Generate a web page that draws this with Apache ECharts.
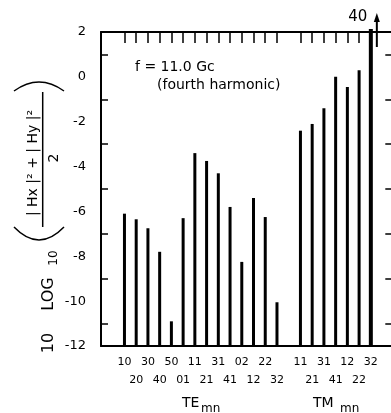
<!DOCTYPE html>
<html>
<head>
<meta charset="utf-8">
<script src="https://cdn.jsdelivr.net/npm/echarts@6/dist/echarts.min.js"></script>
<style>
  html, body { margin: 0; padding: 0; background: #fff; }
  #chart { width: 391px; height: 413px; }
</style>
</head>
<body>
<div id="chart"></div>
<script>
// mode labels, in drawing order
const teModes = ['10', '20', '30', '40', '50', '01', '11', '21', '31', '41', '02', '12', '22', '32'];
const tmModes = ['11', '21', '31', '41', '12', '22', '32'];

// 10 log10 of the mean squared field, per mode
const teValues = [-6.1, -6.35, -6.75, -7.8, -10.9, -6.3, -3.4, -3.75, -4.3, -5.8, -8.25, -5.4, -6.25, -10.05];
const tmValues = [-2.4, -2.1, -1.4, 0.0, -0.45, 0.3, 40];

const yTicks = [-12, -10, -8, -6, -4, -2, 0, 2];
const yMin = -12;
const yMax = 2;

// category slots: two empty before TE, one between TE and TM, two after
const slots = ['', ''].concat(teModes, [''], tmModes, ['', '']);
const teStart = 2;
const tmStart = teStart + teModes.length + 1;

const barData = [];
const rowOf = {};
teModes.forEach((m, i) => { barData.push([teStart + i, teValues[i]]); rowOf[teStart + i] = i % 2; });
tmModes.forEach((m, i) => { barData.push([tmStart + i, tmValues[i]]); rowOf[tmStart + i] = i % 2; });

const font = 'DejaVu Sans';
const chart = echarts.init(document.getElementById('chart'));

const txt = (text, x, y, size, align) => ({
  type: 'text', x: x, y: y,
  style: {
    text: text, fill: '#000', font: size + 'px "' + font + '"',
    align: align || 'center', verticalAlign: 'middle',
    textAlign: align || 'center', textVerticalAlign: 'middle'
  }
});

const option = {
  animation: false,
  grid: { left: 101, top: 32, width: 293.3, bottom: 67, outerBoundsMode: 'none' },
  xAxis: [
    {
      type: 'category',
      data: slots,
      boundaryGap: false,
      position: 'bottom',
      axisLine: { onZero: false, lineStyle: { color: '#000', width: 2 } },
      axisTick: { show: false },
      axisLabel: {
        interval: 0,
        margin: 7,
        color: '#000',
        fontFamily: font,
        fontSize: 11,
        lineHeight: 18,
        formatter: (v, i) => (v === '' ? '' : (rowOf[i] ? '\n' + v : v))
      },
      splitLine: { show: false }
    },
    {
      type: 'category',
      data: slots,
      boundaryGap: false,
      position: 'top',
      axisLine: { onZero: false, lineStyle: { color: '#000', width: 2 } },
      axisTick: {
        inside: true, length: 11,
        interval: (i) => slots[i] !== '',
        lineStyle: { color: '#000', width: 1.5 }
      },
      axisLabel: { show: false },
      splitLine: { show: false }
    }
  ],
  yAxis: [
    {
      type: 'value',
      min: yMin, max: yMax, interval: 2,
      position: 'left',
      axisLine: { show: true, onZero: false, lineStyle: { color: '#000', width: 2 } },
      axisTick: { inside: true, length: 14, lineStyle: { color: '#000', width: 1.5 } },
      minorTick: { show: true, splitNumber: 2, length: 7, lineStyle: { color: '#000', width: 1.5 } },
      axisLabel: {
        margin: 15, color: '#000', fontFamily: font, fontSize: 13,
        formatter: (v) => (yTicks.indexOf(v) >= 0 ? String(v) : '')
      },
      splitLine: { show: false }
    },
    {
      type: 'value',
      min: yMin, max: yMax, interval: 2,
      position: 'right',
      axisLine: { show: true, onZero: false, lineStyle: { color: '#000', width: 2 } },
      axisTick: { inside: true, length: 16, lineStyle: { color: '#000', width: 1.5 } },
      minorTick: { show: true, splitNumber: 2, length: 9, lineStyle: { color: '#000', width: 1.5 } },
      axisLabel: { show: false },
      splitLine: { show: false }
    }
  ],
  series: [
    {
      type: 'custom',
      xAxisIndex: 0,
      yAxisIndex: 0,
      data: barData,
      renderItem: (params, api) => {
        const idx = api.value(0);
        const val = api.value(1);
        const base = api.coord([idx, yMin]);
        const top = api.coord([idx, Math.min(val, yMax)]);
        const over = val > yMax;
        const w = over ? 4 : 3;
        const y0 = over ? top[1] - 3 : top[1];
        const children = [{
          type: 'rect',
          shape: { x: base[0] - w / 2, y: y0, width: w, height: base[1] - y0 },
          style: { fill: '#000' }
        }];
        if (over) {
          const ax = base[0] + 6;
          children.push({
            type: 'line',
            shape: { x1: ax, y1: top[1] + 15, x2: ax, y2: top[1] - 11 },
            style: { stroke: '#000', lineWidth: 2 }
          });
          children.push({
            type: 'polygon',
            shape: { points: [[ax, top[1] - 19], [ax - 3, top[1] - 10], [ax + 3, top[1] - 10]] },
            style: { fill: '#000' }
          });
          children.push(txt(String(val), base[0] - 13, top[1] - 15, 15));
        }
        return { type: 'group', children: children };
      }
    }
  ],
  graphic: [
    txt('f = 11.0 Gc', 135, 67, 14, 'left'),
    txt('(fourth harmonic)', 157, 85, 14, 'left'),
    txt('TE', 182, 403, 14, 'left'),
    txt('mn', 201, 409, 12, 'left'),
    txt('TM', 313, 403, 14, 'left'),
    txt('mn', 340, 409, 12, 'left'),
    {
      type: 'group', x: 0, y: 353, rotation: Math.PI / 2,
      children: [
        txt('10', 10, 48.5, 16),
        txt('LOG', 59, 48.5, 16),
        txt('10', 95, 54, 12),
        {
          type: 'bezierCurve',
          shape: { x1: 126, y1: 14, x2: 126, y2: 64, cpx1: 100, cpy1: 39 },
          style: { stroke: '#000', lineWidth: 1.5, fill: null }
        },
        {
          type: 'bezierCurve',
          shape: { x1: 262, y1: 14, x2: 262, y2: 64, cpx1: 280, cpy1: 39 },
          style: { stroke: '#000', lineWidth: 1.5, fill: null }
        },
        txt('| Hx |² + | Hy |²', 190, 33, 14),
        {
          type: 'line',
          shape: { x1: 126, y1: 42.7, x2: 261, y2: 42.7 },
          style: { stroke: '#000', lineWidth: 1.5 }
        },
        txt('2', 195, 54, 14)
      ]
    }
  ]
};

chart.setOption(option);
</script>
</body>
</html>
